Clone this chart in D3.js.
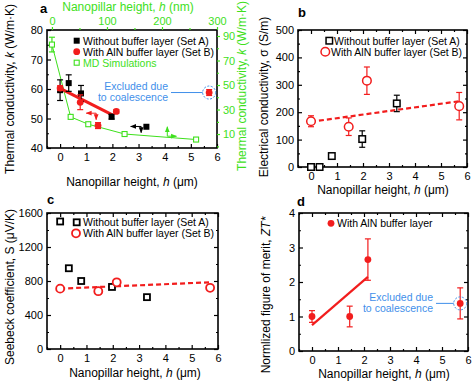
<!DOCTYPE html>
<html>
<head>
<meta charset="utf-8">
<script src="https://cdn.jsdelivr.net/npm/d3@7"></script>
<style>
  body { margin: 0; background: #fff; }
  svg text { font-family: "Liberation Sans", Arial, sans-serif; }
</style>
</head>
<body>
<svg id="fig" width="472" height="382"></svg>
<script>
// ---- data ----
// panel a: thermal conductivity
const hA = [0, 0.33, 0.8, 1.97, 3.3];
const kA = [59.6, 62, 58.5, 50.6, 47.2];
const kAerr = [3.5, 2.8, 2.7, 0.8, 0];
const hB = [0, 0.77, 1.45, 2.15];
const kB = [60.3, 55.5, 47.6, 52.4];
const kBerr = [0.8, 2.5, 1.0, 0.6];
const hExcl = 5.7, kExcl = 58.8, kExclErr = 1.0;
const kFit = [[0, 60.2], [2.0, 51.2]];
const mdNm = [0, 34, 66, 132, 262];      // top axis (nm)
const mdK = [83, 24, 18, 10, 5.5];       // right axis
const mdErr = [6, 0, 0, 0, 0];
// limit arrows in panel a (h, k coordinates)
const limitArrows = [
  { x1: 1.38, y1: 51.8, x2: 1.0, y2: 51.8, c: "red" },
  { x1: 1.38, y1: 51.8, x2: 1.38, y2: 49.6, c: "red" },
  { x1: 3.1, y1: 47.3, x2: 2.7, y2: 47.3, c: "black" },
  { x1: 3.1, y1: 47.3, x2: 3.1, y2: 45.2, c: "black" },
  { x1: 4.1, y1: 44.0, x2: 4.1, y2: 47.2, c: "green" },
  { x1: 4.1, y1: 44.0, x2: 4.45, y2: 44.0, c: "green" }
];

// panel b: electrical conductivity
const sigA = [0, 0, 40, 102, 232];
const sigAerr = [0, 0, 4, 30, 30];
const sigB = [167, 147, 315, 222];
const sigBerr = [20, 32, 50, 50];
const hSigB = [0, 1.45, 2.15, 5.7];
const sigFit = [[0, 165], [5.7, 240]];

// panel c: Seebeck
const seebA = [1500, 950, 800, 730, 610];
const seebAerr = [0, 20, 0, 0, 0];
const seebB = [710, 680, 785, 720];
const seebFit = [[0, 710], [5.7, 785]];

// panel d: ZT*
const hZ = [0, 1.45, 2.15, 5.7];
const zt = [1.0, 1.0, 2.65, 1.38];
const ztErr = [0.17, 0.3, 0.6, 0.45];
const ztFit = [[0, 0.75], [2.15, 2.15]];

const xMajor = [0, 1, 2, 3, 4, 5, 6];
const xMinor = [-0.5, 0.5, 1.5, 2.5, 3.5, 4.5, 5.5];

const RED = "#f21d1d", GREEN = "#3ee01c", BLUE = "#3f8fea";
const LEG = 10.5;

const svg = d3.select("#fig");

const defs = svg.append("defs");
[["red", RED], ["black", "#000"], ["green", GREEN]].forEach(([n, c]) => {
  defs.append("marker")
    .attr("id", "ah-" + n)
    .attr("viewBox", "0 0 10 10")
    .attr("refX", 9).attr("refY", 5)
    .attr("markerWidth", 6).attr("markerHeight", 6)
    .attr("orient", "auto")
    .append("path").attr("d", "M0,1L10,5L0,9Z").attr("fill", c);
});

function axes(x, y, yMaj, yMin, mirror) {
  const [x0, x1] = x.range();
  const [y0, y1] = y.range();
  const g = svg.append("g");
  const put = (axis, tx, ty) =>
    g.append("g").attr("transform", `translate(${tx},${ty})`).call(axis);
  put(d3.axisBottom(x).tickValues(xMajor).tickSize(-4).tickPadding(5).tickFormat(d3.format("d")), 0, y0);
  put(d3.axisBottom(x).tickValues(xMinor).tickSize(-2).tickFormat(""), 0, y0);
  put(d3.axisLeft(y).tickValues(yMaj).tickSize(-4).tickPadding(4).tickFormat(d3.format("d")), x0, 0);
  put(d3.axisLeft(y).tickValues(yMin).tickSize(-2).tickFormat(""), x0, 0);
  if (mirror) {
    put(d3.axisTop(x).tickValues(xMajor).tickSize(-4).tickFormat(""), 0, y1);
    put(d3.axisTop(x).tickValues(xMinor).tickSize(-2).tickFormat(""), 0, y1);
    put(d3.axisRight(y).tickValues(yMaj).tickSize(-4).tickFormat(""), x1, 0);
    put(d3.axisRight(y).tickValues(yMin).tickSize(-2).tickFormat(""), x1, 0);
  }
  g.selectAll(".domain").remove();
  g.selectAll(".tick line").attr("stroke", "#000").attr("stroke-width", 1.2);
  g.selectAll("text").attr("font-size", 11).attr("fill", "#000");
  svg.append("rect")
    .attr("x", x0).attr("y", y1).attr("width", x1 - x0).attr("height", y0 - y1)
    .attr("fill", "none").attr("stroke", "#000").attr("stroke-width", 1.6);
}

function errBars(g, xs, ys, es, x, y, color) {
  xs.forEach((h, i) => {
    if (!es[i]) return;
    const px = x(h), a = y(ys[i] - es[i]), b = y(ys[i] + es[i]);
    g.append("line").attr("x1", px).attr("x2", px).attr("y1", a).attr("y2", b)
      .attr("stroke", color).attr("stroke-width", 1.2);
    [a, b].forEach(v => g.append("line").attr("x1", px - 3).attr("x2", px + 3)
      .attr("y1", v).attr("y2", v).attr("stroke", color).attr("stroke-width", 1.2));
  });
}

function squares(g, xs, ys, x, y, s, fill, stroke, sw) {
  g.selectAll(null).data(xs).join("rect")
    .attr("x", (d) => x(d) - s / 2)
    .attr("y", (d, i) => y(ys[i]) - s / 2)
    .attr("width", s).attr("height", s)
    .attr("fill", fill).attr("stroke", stroke).attr("stroke-width", sw);
}

function circles(g, xs, ys, x, y, r, fill, stroke, sw) {
  g.selectAll(null).data(xs).join("circle")
    .attr("cx", (d) => x(d)).attr("cy", (d, i) => y(ys[i])).attr("r", r)
    .attr("fill", fill).attr("stroke", stroke).attr("stroke-width", sw);
}

function fitLine(g, pts, x, y, color, w, dash) {
  g.append("path")
    .attr("d", d3.line().x(d => x(d[0])).y(d => y(d[1]))(pts))
    .attr("fill", "none").attr("stroke", color).attr("stroke-width", w)
    .attr("stroke-dasharray", dash || null);
}

function label(x, y, opts = {}) {
  const t = svg.append("text").attr("x", x).attr("y", y)
    .attr("font-size", opts.size || 12)
    .attr("fill", opts.color || "#000")
    .attr("text-anchor", opts.anchor || "start")
    .attr("font-weight", opts.bold ? "bold" : null);
  if (opts.rot) t.attr("transform", `rotate(-90,${x},${y})`);
  return t;
}

function hTitle(x, y, unit, color) {
  const t = label(x, y, { anchor: "middle", color: color });
  t.append("tspan").text("Nanopillar height, ");
  t.append("tspan").attr("font-style", "italic").text("h");
  t.append("tspan").text(` (${unit})`);
  return t;
}

function excluded(g, cx, cy, textRight) {
  g.append("circle").attr("cx", cx).attr("cy", cy).attr("r", 6.5)
    .attr("fill", "none").attr("stroke", BLUE).attr("stroke-width", 1)
    .attr("stroke-dasharray", "2,1.5");
  g.append("line").attr("x1", textRight + 3).attr("x2", cx - 6.5)
    .attr("y1", cy).attr("y2", cy).attr("stroke", BLUE).attr("stroke-width", 1);
  const t = g.append("text").attr("x", textRight).attr("y", cy - 2.5)
    .attr("text-anchor", "end").attr("font-size", 10.5).attr("fill", BLUE);
  t.append("tspan").attr("x", textRight).text("Excluded due");
  t.append("tspan").attr("x", textRight).attr("dy", 11).text("to coalescence");
}

// ================= panel a =================
const xa = d3.scaleLinear().domain([-0.5, 6]).range([47, 217]);
const ya = d3.scaleLinear().domain([40, 80]).range([148, 30]);
const xaTop = d3.scaleLinear().domain([-9, 300]).range([47, 217]);
const yaR = d3.scaleLinear().domain([-1.4, 94.9]).range([148, 30]);
axes(xa, ya, [40, 50, 60, 70, 80], [45, 55, 65, 75], false);

// green top and right axes
const gG = svg.append("g");
gG.append("g").attr("transform", "translate(0,30)")
  .call(d3.axisTop(xaTop).tickValues([0, 100, 200, 300]).tickSize(3).tickPadding(2));
gG.append("g").attr("transform", "translate(0,30)")
  .call(d3.axisTop(xaTop).tickValues([50, 150, 250]).tickSize(2).tickFormat(""));
gG.append("g").attr("transform", "translate(217,0)")
  .call(d3.axisRight(yaR).tickValues([10, 30, 50, 70, 90]).tickSize(3).tickPadding(3));
gG.append("g").attr("transform", "translate(217,0)")
  .call(d3.axisRight(yaR).tickValues([0, 20, 40, 60, 80]).tickSize(2).tickFormat(""));
gG.selectAll(".domain").remove();
gG.selectAll(".tick line").attr("stroke", GREEN).attr("stroke-width", 1.2);
gG.selectAll("text").attr("font-size", 11).attr("fill", GREEN);

const ga = svg.append("g");
// MD simulations
fitLine(ga, mdNm.map((d, i) => [d, mdK[i]]), xaTop, yaR, GREEN, 1);
errBars(ga, mdNm, mdK, mdErr, xaTop, yaR, GREEN);
squares(ga, mdNm, mdK, xaTop, yaR, 5, "#fff", GREEN, 1.1);
// fit
fitLine(ga, kFit, xa, ya, RED, 3);
errBars(ga, hA, kA, kAerr, xa, ya, "#000");
squares(ga, hA, kA, xa, ya, 6, "#000", "none", 0);
errBars(ga, hB, kB, kBerr, xa, ya, RED);
circles(ga, hB, kB, xa, ya, 3.4, RED, "none", 0);
errBars(ga, [hExcl], [kExcl], [kExclErr], xa, ya, RED);
circles(ga, [hExcl], [kExcl], xa, ya, 3.4, RED, "none", 0);
excluded(ga, xa(hExcl), ya(kExcl), 168);
// limit arrows
ga.selectAll(null).data(limitArrows).join("line")
  .attr("x1", d => xa(d.x1)).attr("y1", d => ya(d.y1))
  .attr("x2", d => xa(d.x2)).attr("y2", d => ya(d.y2))
  .attr("stroke", d => d.c === "red" ? RED : d.c === "green" ? GREEN : "#000")
  .attr("stroke-width", 1)
  .attr("marker-end", d => `url(#ah-${d.c})`);

// legend a
squares(ga, [0], [0], () => 76.7, () => 40.7, 6, "#000", "none", 0);
circles(ga, [0], [0], () => 76.7, () => 51.7, 3.4, RED, "none", 0);
squares(ga, [0], [0], () => 76.7, () => 62.7, 5, "#fff", GREEN, 1.1);
label(83, 44.5, { size: LEG }).text("Without buffer layer (Set A)");
label(83, 55.5, { size: LEG }).text("With AlN buffer layer (Set B)");
label(83, 66.5, { size: LEG, color: GREEN }).text("MD Simulations");

label(40, 13, { size: 13, bold: true }).text("a");
hTitle(132, 186, "μm");
hTitle(128, 11, "nm", GREEN);
{
  const t = label(14, 89, { anchor: "middle", rot: true });
  t.append("tspan").text("Thermal conductivity, ");
  t.append("tspan").attr("font-style", "italic").text("k");
  t.append("tspan").text(" (W/m·K)");
  const t2 = label(246, 86, { anchor: "middle", rot: true, color: GREEN });
  t2.append("tspan").text("Thermal conductivity, ");
  t2.append("tspan").attr("font-style", "italic").text("k");
  t2.append("tspan").text(" (W/m·K)");
}

// ================= panel b =================
const xb = d3.scaleLinear().domain([-0.5, 6]).range([298, 467]);
const yb = d3.scaleLinear().domain([0, 500]).range([167, 30]);
axes(xb, yb, [0, 100, 200, 300, 400, 500], [50, 150, 250, 350, 450], true);
const gb = svg.append("g");
fitLine(gb, sigFit, xb, yb, RED, 2.2, "5,3");
errBars(gb, hA, sigA, sigAerr, xb, yb, "#000");
squares(gb, hA, sigA, xb, yb, 6.5, "#fff", "#000", 1.5);
errBars(gb, hSigB, sigB, sigBerr, xb, yb, RED);
circles(gb, hSigB, sigB, xb, yb, 4.3, "#fff", RED, 1.5);
squares(gb, [0], [0], () => 329.3, () => 40.7, 6.5, "#fff", "#000", 1.5);
circles(gb, [0], [0], () => 325.3, () => 51.7, 4.3, "#fff", RED, 1.5);
label(334, 44.5, { size: LEG }).text("Without buffer layer (Set A)");
label(331, 55.5, { size: LEG }).text("With AlN buffer layer (Set B)");
label(298, 17, { size: 13, bold: true }).text("b");
hTitle(383, 194, "μm");
label(268, 97, { anchor: "middle", rot: true }).text("Electrical conductivity, σ (S/m)");

// ================= panel c =================
const xc = d3.scaleLinear().domain([-0.5, 6]).range([47, 218]);
const yc = d3.scaleLinear().domain([0, 1600]).range([349, 213]);
axes(xc, yc, [0, 400, 800, 1200, 1600], [200, 600, 1000, 1400], true);
const gc = svg.append("g");
fitLine(gc, seebFit, xc, yc, RED, 2.2, "5,3");
errBars(gc, hA, seebA, seebAerr, xc, yc, "#000");
squares(gc, hA, seebA, xc, yc, 6, "#fff", "#000", 1.8);
circles(gc, hSigB, seebB, xc, yc, 4, "#fff", RED, 1.8);
squares(gc, [0], [0], () => 76.7, () => 222.3, 6, "#fff", "#000", 1.8);
circles(gc, [0], [0], () => 76, () => 233.3, 4, "#fff", RED, 1.8);
label(83, 226, { size: LEG }).text("Without buffer layer (Set A)");
label(83, 237, { size: LEG }).text("With AlN buffer layer (Set B)");
label(47, 204, { size: 13, bold: true }).text("c");
hTitle(135, 377, "μm");
label(14, 287, { anchor: "middle", rot: true }).text("Seebeck coefficient, S (μV/K)");

// ================= panel d =================
const xd = d3.scaleLinear().domain([-0.5, 6]).range([299, 468]);
const yd = d3.scaleLinear().domain([0, 4]).range([351, 213]);
axes(xd, yd, [0, 1, 2, 3, 4], [0.5, 1.5, 2.5, 3.5], true);
const gd = svg.append("g");
fitLine(gd, ztFit, xd, yd, RED, 2.2);
errBars(gd, hZ, zt, ztErr, xd, yd, RED);
circles(gd, hZ, zt, xd, yd, 3.4, RED, "none", 0);
excluded(gd, xd(hZ[3]), yd(zt[3]), 433);
circles(gd, [0], [0], () => 331, () => 223.3, 3.4, RED, "none", 0);
label(337, 227, { size: LEG }).text("With AlN buffer layer");
label(297, 206, { size: 13, bold: true }).text("d");
hTitle(384, 378, "μm");
{
  const t = label(270, 295, { anchor: "middle", rot: true });
  t.append("tspan").text("Normlized figure of merit, ");
  t.append("tspan").attr("font-style", "italic").text("ZT*");
}
</script>
</body>
</html>
